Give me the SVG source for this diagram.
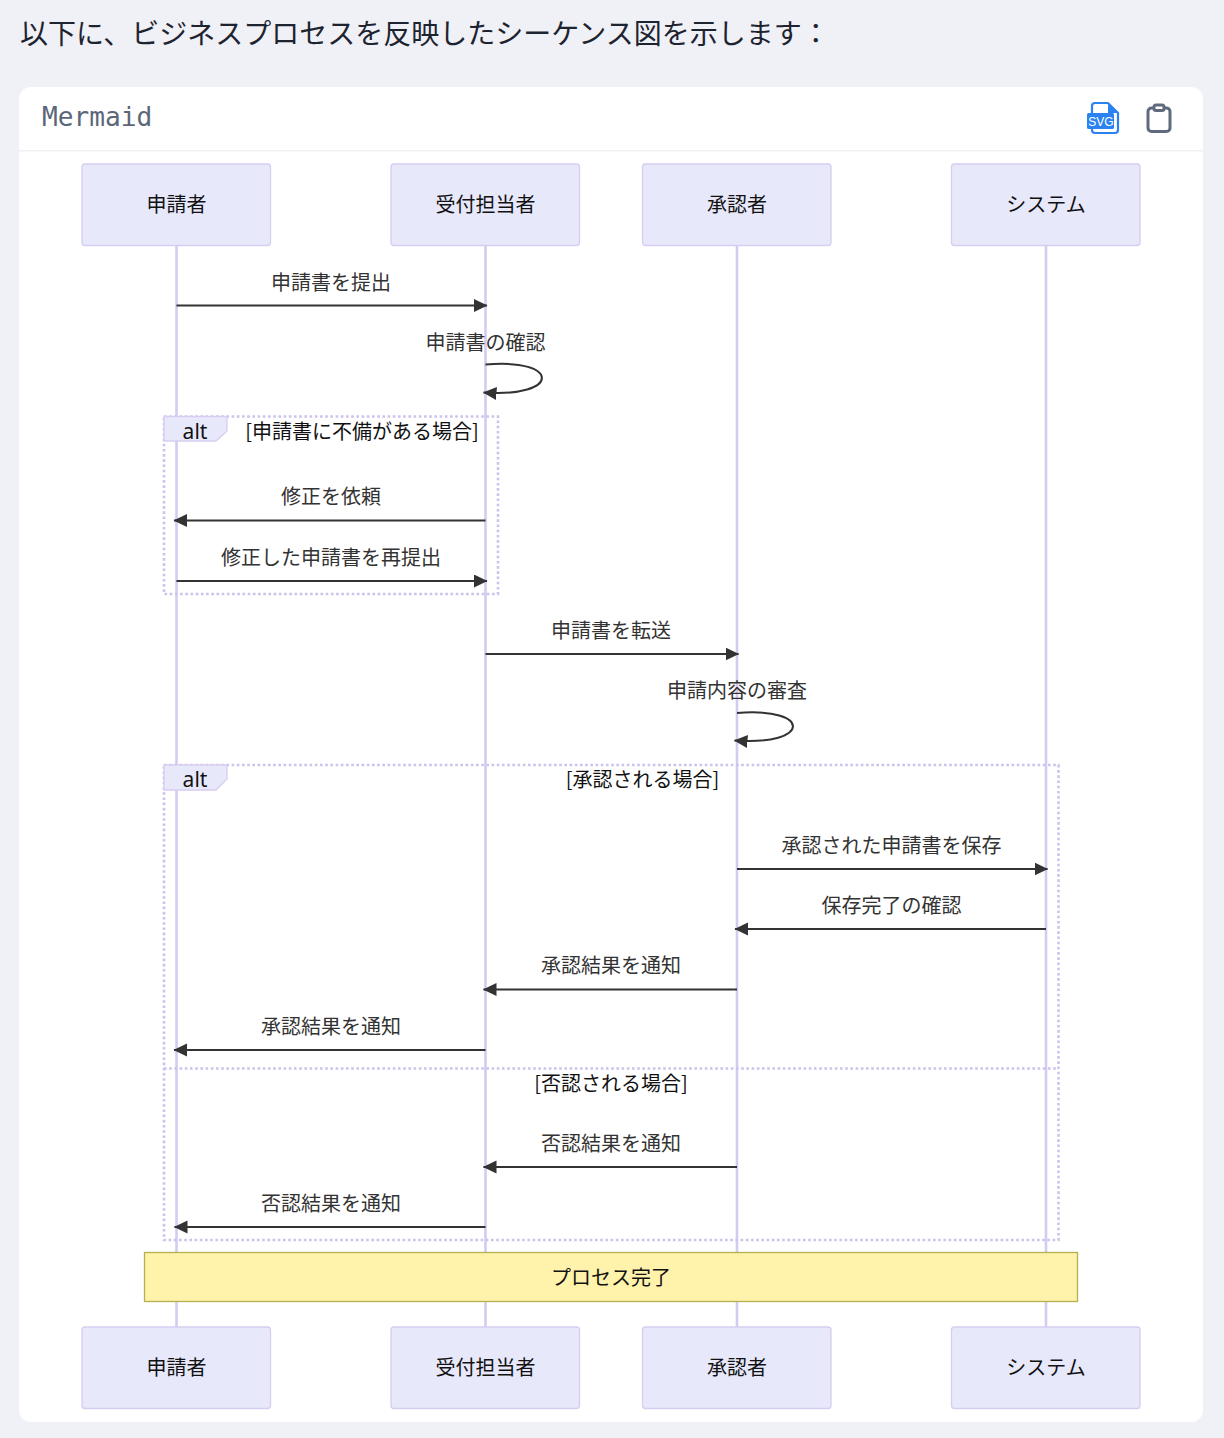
<svg xmlns="http://www.w3.org/2000/svg" width="1224" height="1438" viewBox="0 0 1224 1438">
<style>
text{font-family:"Noto Sans CJK JP","Noto Sans",sans-serif}
.actor rect{fill:#e8e8fb;stroke:#d6cdf0;stroke-width:1.3}
.actor text{font-size:20px;fill:#111;text-anchor:middle;dominant-baseline:central}
.life{stroke:#d5cbf0;stroke-width:2.6;fill:none}
.msg{stroke:#333;stroke-width:2;fill:none}
.lbl{font-size:20px;fill:#333;text-anchor:middle}
.frame{fill:none;stroke:#cbc3ea;stroke-width:2.6;stroke-dasharray:2.6 2.6}
.ltab{fill:#e8e8fb;stroke:#d6cdf0;stroke-width:1.3}
.alt{font-family:"Noto Sans",sans-serif;font-size:21px;fill:#111;text-anchor:middle}
.cond{font-size:20px;fill:#111;text-anchor:middle}
</style>
<defs>
<marker id="ah" markerUnits="userSpaceOnUse" markerWidth="14" markerHeight="14" refX="13" refY="6.5" orient="auto"><path d="M0 0L13.500 6.500L0 13Z" fill="#333"/></marker>
</defs>
<rect width="1224" height="1438" fill="#f0f1f6"/>
<text x="20" y="43.500" font-size="28px" fill="#1d2430">以下に、ビジネスプロセスを反映したシーケンス図を示します：</text>
<g id="card">
<rect x="19" y="87" width="1184" height="1335" rx="12" fill="#fff"/>
<rect x="19" y="150" width="1184" height="1.500" fill="#f1f1f3"/>
<text x="42" y="126" style="font-family:'DejaVu Sans Mono','Liberation Mono',monospace" font-size="26.200px" fill="#5b6779">Mermaid</text>
</g>
<g id="icon-svg">
<path d="M1092 114V106a3 3 0 0 1 3-3H1108L1118 113V130a3 3 0 0 1-3 3H1095a3 3 0 0 1-3-3V129" fill="#fff" stroke="#2a83f0" stroke-width="2.200"/>
<path d="M1108 103V113H1118Z" fill="#2a83f0"/>
<rect x="1087" y="113" width="27" height="16" rx="1.500" fill="#2a83f0"/>
<text x="1101" y="125.500" font-size="12px" fill="#fff" text-anchor="middle" style="font-family:'Liberation Sans',sans-serif">SVG</text>
</g>
<g id="icon-copy" fill="none" stroke="#5f6b7c" stroke-width="3">
<rect x="1148" y="108" width="22" height="23.500" rx="3.500"/>
<rect x="1154" y="105" width="10" height="5.500" rx="2" fill="#fff"/>
</g>
<g id="lifelines">
<line class="life" x1="176.500" y1="245" x2="176.500" y2="1327"/>
<line class="life" x1="485.500" y1="245" x2="485.500" y2="1327"/>
<line class="life" x1="737" y1="245" x2="737" y2="1327"/>
<line class="life" x1="1046" y1="245" x2="1046" y2="1327"/>
</g>
<g id="actor-top-1" class="actor"><rect x="82" y="164" width="188.500" height="81.500" rx="3"/><text x="176.500" y="203.500">申請者</text></g>
<g id="actor-top-2" class="actor"><rect x="391" y="164" width="188.500" height="81.500" rx="3"/><text x="485.500" y="203.500">受付担当者</text></g>
<g id="actor-top-3" class="actor"><rect x="642.500" y="164" width="188.500" height="81.500" rx="3"/><text x="737" y="203.500">承認者</text></g>
<g id="actor-top-4" class="actor"><rect x="951.500" y="164" width="188.500" height="81.500" rx="3"/><text x="1046" y="203.500">システム</text></g>
<g id="actor-bottom-1" class="actor"><rect x="82" y="1327" width="188.500" height="81.500" rx="3"/><text x="176.500" y="1366.500">申請者</text></g>
<g id="actor-bottom-2" class="actor"><rect x="391" y="1327" width="188.500" height="81.500" rx="3"/><text x="485.500" y="1366.500">受付担当者</text></g>
<g id="actor-bottom-3" class="actor"><rect x="642.500" y="1327" width="188.500" height="81.500" rx="3"/><text x="737" y="1366.500">承認者</text></g>
<g id="actor-bottom-4" class="actor"><rect x="951.500" y="1327" width="188.500" height="81.500" rx="3"/><text x="1046" y="1366.500">システム</text></g>
<g id="frame-1">
<rect class="frame" x="164" y="416.500" width="334" height="177.500"/>
<path class="ltab" d="M164 416.500H227V431L216 441H164Z"/>
<text class="alt" x="195" y="438.500">alt</text>
<text class="cond" x="362" y="439">[申請書に不備がある場合]</text>
</g>
<g id="frame-2">
<rect class="frame" x="164" y="765" width="894.500" height="475"/>
<line class="frame" x1="164" y1="1068.500" x2="1058.500" y2="1068.500"/>
<path class="ltab" d="M164 765H227V779L216 790H164Z"/>
<text class="alt" x="195" y="786.500">alt</text>
<text class="cond" x="642.500" y="787">[承認される場合]</text>
<text class="cond" x="611" y="1091">[否認される場合]</text>
</g>
<g id="connectors">
<line class="msg" x1="176.500" y1="305.500" x2="487" y2="305.500" marker-end="url(#ah)"/>
<path class="msg" d="M485.500 364.500C561 358 561 398 483.500 392.500" marker-end="url(#ah)"/>
<line class="msg" x1="485.500" y1="520.500" x2="174" y2="520.500" marker-end="url(#ah)"/>
<line class="msg" x1="176.500" y1="581" x2="487" y2="581" marker-end="url(#ah)"/>
<line class="msg" x1="485.500" y1="654" x2="738.500" y2="654" marker-end="url(#ah)"/>
<path class="msg" d="M737 713C812 707 812 746 734.500 740.500" marker-end="url(#ah)"/>
<line class="msg" x1="737" y1="869" x2="1047.500" y2="869" marker-end="url(#ah)"/>
<line class="msg" x1="1046" y1="929" x2="735" y2="929" marker-end="url(#ah)"/>
<line class="msg" x1="737" y1="989.500" x2="483.500" y2="989.500" marker-end="url(#ah)"/>
<line class="msg" x1="485.500" y1="1050" x2="174" y2="1050" marker-end="url(#ah)"/>
<line class="msg" x1="737" y1="1167" x2="483.500" y2="1167" marker-end="url(#ah)"/>
<line class="msg" x1="485.500" y1="1227" x2="174.500" y2="1227" marker-end="url(#ah)"/>
</g>
<g id="labels">
<text class="lbl" x="331" y="290">申請書を提出</text>
<text class="lbl" x="485.500" y="350">申請書の確認</text>
<text class="lbl" x="331" y="504">修正を依頼</text>
<text class="lbl" x="331" y="565">修正した申請書を再提出</text>
<text class="lbl" x="611" y="638">申請書を転送</text>
<text class="lbl" x="737" y="698">申請内容の審査</text>
<text class="lbl" x="891.500" y="853">承認された申請書を保存</text>
<text class="lbl" x="891.500" y="913">保存完了の確認</text>
<text class="lbl" x="611" y="973">承認結果を通知</text>
<text class="lbl" x="331" y="1034">承認結果を通知</text>
<text class="lbl" x="611" y="1151">否認結果を通知</text>
<text class="lbl" x="331" y="1211">否認結果を通知</text>
</g>
<g id="note">
<rect x="144.500" y="1252.500" width="933" height="49" fill="#fff2ab" stroke="#b5b04e" stroke-width="1.300"/>
<text x="611" y="1285" font-size="20px" fill="#111" text-anchor="middle">プロセス完了</text>
</g>
</svg>
